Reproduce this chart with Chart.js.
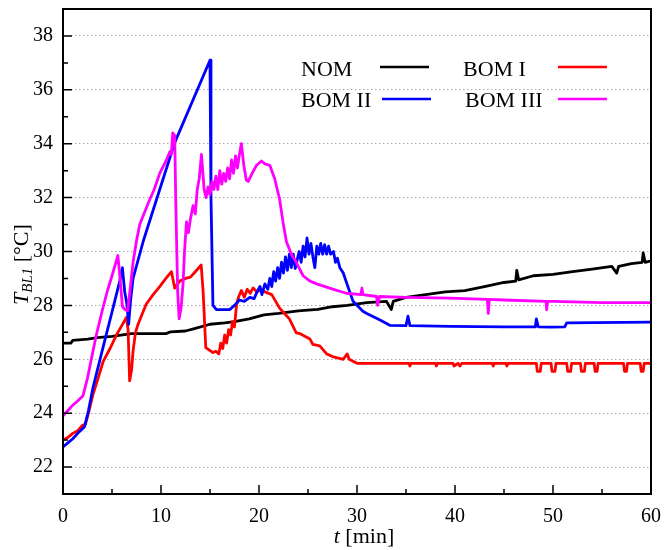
<!DOCTYPE html>
<html>
<head>
<meta charset="utf-8">
<script src="https://cdn.jsdelivr.net/npm/chart.js@4"></script>
<style>
  body { margin: 0; background: #fff; }
  canvas { display: block; }
</style>
</head>
<body>
<canvas id="tempChart" width="664" height="550"></canvas>
<script>
// time [min] and temperature [°C] for each run
const nomTime = [0, 0.8, 1.0, 2.5, 3.5, 5, 7, 9, 10.5, 11, 12.5, 13.5, 15, 16.5, 17.5, 19, 20.5, 22, 24, 26, 27.5, 29, 31, 33, 33.5, 33.7, 35, 37, 39, 41, 43, 45, 46.2, 46.3, 46.5, 48, 50, 52, 54, 56, 56.5, 56.7, 58, 59.1, 59.2, 59.4, 60];
const nomTemp = [26.6, 26.6, 26.7, 26.75, 26.8, 26.85, 26.95, 26.95, 26.95, 27.02, 27.05, 27.15, 27.3, 27.35, 27.4, 27.5, 27.65, 27.7, 27.8, 27.85, 27.95, 28.0, 28.1, 28.15, 27.85, 28.15, 28.3, 28.4, 28.5, 28.55, 28.7, 28.85, 28.9, 29.3, 28.95, 29.1, 29.15, 29.25, 29.35, 29.45, 29.2, 29.45, 29.55, 29.6, 29.95, 29.6, 29.65];

const bom1Time = [0, 0.5, 1, 1.5, 2.0, 2.3, 2.6, 3.06, 3.5, 4.08, 4.8, 5.45, 6.0, 6.47, 6.64, 6.8, 7.0, 7.15, 7.4, 7.66, 8.1, 8.5, 9.2, 9.87, 10.5, 11.07, 11.4, 11.9, 12.5, 13.0, 13.5, 14.1, 14.3, 14.57, 15.3, 15.6, 15.9, 16.1, 16.3, 16.5, 16.7, 16.9, 17.1, 17.3, 17.5, 17.7, 17.9, 18.2, 18.5, 18.8, 19.1, 19.4, 19.8, 20.2, 20.6, 21.3, 22.1, 22.6, 23.1, 23.8, 24.2, 25.2, 25.5, 26.2, 26.9, 27.5, 28.6, 29.0, 29.2, 30.0, 32, 35.3, 35.4, 35.5, 38.0, 38.1, 38.2, 39.8, 39.9, 40.3, 40.5, 40.7, 43.8, 43.9, 44.0, 45.2, 45.3, 45.4, 48.3, 48.4, 48.7, 48.8, 49.8, 49.9, 50.2, 50.3, 51.4, 51.5, 51.8, 51.9, 52.8, 52.9, 53.2, 53.3, 54.2, 54.3, 54.5, 54.6, 57.2, 57.3, 57.5, 57.6, 58.9, 59.0, 59.2, 59.3, 60];
const bom1Temp = [23.0, 23.1, 23.25, 23.35, 23.55, 23.6, 24.0, 24.7, 25.2, 25.9, 26.4, 26.9, 27.25, 27.55, 27.1, 25.2, 25.6, 26.3, 27.0, 27.3, 27.7, 28.05, 28.4, 28.7, 29.0, 29.25, 28.64, 28.9, 29.0, 29.05, 29.25, 29.5, 28.5, 26.43, 26.25, 26.3, 26.2, 26.6, 26.4, 26.9, 26.6, 27.1, 26.9, 27.4, 27.2, 28.0, 28.3, 28.55, 28.3, 28.6, 28.45, 28.65, 28.5, 28.6, 28.5, 28.4, 27.9, 27.7, 27.5, 26.98, 26.95, 26.75, 26.55, 26.5, 26.2, 26.1, 26.0, 26.2, 26.0, 25.85, 25.85, 25.85, 25.75, 25.85, 25.85, 25.75, 25.85, 25.85, 25.75, 25.85, 25.75, 25.85, 25.85, 25.75, 25.85, 25.85, 25.75, 25.85, 25.85, 25.55, 25.55, 25.85, 25.85, 25.55, 25.55, 25.85, 25.85, 25.55, 25.55, 25.85, 25.85, 25.55, 25.55, 25.85, 25.85, 25.55, 25.55, 25.85, 25.85, 25.55, 25.55, 25.85, 25.85, 25.55, 25.55, 25.85, 25.85];

const bom2Time = [0, 0.5, 1, 1.5, 2.2, 2.6, 3.06, 4.08, 5.1, 5.79, 6.06, 6.3, 6.5, 6.7, 6.9, 7.15, 8.17, 9.87, 11.4, 15.0, 15.1, 15.3, 15.66, 17.0, 17.5, 18.0, 18.5, 19.06, 19.5, 19.8, 20.1, 20.3, 20.6, 20.9, 21.1, 21.3, 21.5, 21.7, 21.9, 22.1, 22.3, 22.5, 22.7, 22.9, 23.1, 23.3, 23.5, 23.7, 23.9, 24.1, 24.3, 24.5, 24.7, 24.9, 25.1, 25.3, 25.5, 25.7, 25.9, 26.1, 26.3, 26.5, 26.7, 26.9, 27.1, 27.3, 27.6, 27.8, 28.0, 28.25, 28.6, 28.9, 29.6, 30.6, 31.0, 32.3, 33.35, 35.0, 35.2, 35.4, 39.5, 45, 48.2, 48.3, 48.5, 49.7, 51.2, 51.4, 60];
const bom2Temp = [22.75, 22.9, 23.05, 23.25, 23.5, 24.1, 24.95, 26.43, 27.9, 28.9, 29.4, 28.5, 28.1, 27.3, 28.2, 29.0, 30.36, 32.3, 34.04, 37.1, 32.0, 28.0, 27.84, 27.84, 28.0, 28.2, 28.15, 28.3, 28.25, 28.5, 28.7, 28.4, 28.8, 28.6, 29.0, 28.7, 29.25, 28.9, 29.4, 29.0, 29.6, 29.2, 29.8, 29.3, 29.9, 29.4, 29.9, 29.37, 29.7, 30.0, 29.6, 30.2, 29.8, 30.5, 29.9, 30.3, 29.8, 29.4, 30.2, 29.9, 30.3, 29.9, 30.25, 29.9, 30.2, 29.9, 30.0, 29.6, 29.75, 29.4, 29.2, 28.88, 28.15, 27.78, 27.7, 27.47, 27.26, 27.25, 27.6, 27.25, 27.22, 27.2, 27.2, 27.5, 27.2, 27.19, 27.2, 27.35, 27.38];

const bom3Time = [0, 0.5, 1, 1.5, 2.04, 2.5, 3.0, 3.4, 4.0, 4.5, 5.0, 5.6, 5.85, 6.06, 6.3, 6.6, 6.85, 7.15, 7.5, 7.83, 8.7, 9.3, 9.87, 10.5, 10.9, 11.05, 11.2, 11.4, 11.5, 11.7, 11.85, 12.05, 12.25, 12.4, 12.6, 12.8, 13.0, 13.27, 13.5, 13.7, 13.9, 14.13, 14.4, 14.6, 14.8, 15.0, 15.2, 15.4, 15.6, 15.8, 16.0, 16.2, 16.4, 16.6, 16.8, 17.0, 17.2, 17.4, 17.6, 17.8, 18.0, 18.2, 18.45, 18.7, 18.9, 19.3, 19.75, 20.25, 20.6, 21.1, 21.6, 22.1, 22.5, 22.8, 23.3, 23.8, 24.5, 25.2, 25.9, 27.2, 28.9, 30.4, 30.5, 30.6, 32.0, 32.1, 32.3, 35, 39.5, 43.3, 43.4, 43.5, 45, 49.3, 49.35, 49.45, 50, 55, 60];
const bom3Temp = [23.9, 24.1, 24.3, 24.45, 24.65, 25.3, 26.2, 26.9, 27.8, 28.5, 29.1, 29.85, 28.9, 27.96, 27.85, 27.8, 28.6, 29.6, 30.4, 31.0, 31.8, 32.3, 32.9, 33.35, 33.7, 33.6, 34.4, 34.3, 32.0, 28.5, 27.5, 27.9, 28.8, 30.0, 31.1, 30.7, 31.2, 31.7, 31.4, 32.3, 32.7, 33.6, 32.3, 32.0, 32.4, 32.1, 32.6, 32.3, 32.8, 32.3, 33.0, 32.5, 32.9, 32.6, 33.1, 32.7, 33.4, 32.9, 33.55, 33.1, 33.6, 34.0, 33.2, 32.65, 32.6, 32.9, 33.2, 33.36, 33.25, 33.2, 32.7, 31.95, 30.97, 30.36, 29.9, 29.6, 29.1, 28.9, 28.8, 28.64, 28.45, 28.4, 28.64, 28.4, 28.33, 28.0, 28.33, 28.3, 28.27, 28.22, 27.7, 28.22, 28.2, 28.15, 27.84, 28.15, 28.15, 28.1, 28.1];

const xTicks = [0, 10, 20, 30, 40, 50, 60];
const yTicks = [22, 24, 26, 28, 30, 32, 34, 36, 38];

const serif = "'Liberation Serif', 'Times New Roman', serif";

const toPoints = (times, temps) => times.map((t, i) => ({ x: t, y: temps[i] }));

const series = [
  { label: "NOM", color: "#000000", data: toPoints(nomTime, nomTemp), order: 4 },
  { label: "BOM I", color: "#ff0000", data: toPoints(bom1Time, bom1Temp), order: 3 },
  { label: "BOM II", color: "#0000ff", data: toPoints(bom2Time, bom2Temp), order: 2 },
  { label: "BOM III", color: "#ff00ff", data: toPoints(bom3Time, bom3Temp), order: 1 },
];

// legend slots: text position and sample line position
const legendSlots = [
  { tx: 301, ty: 76, lx: 380, ly: 67 },
  { tx: 463, ty: 76, lx: 558, ly: 67 },
  { tx: 301, ty: 107, lx: 382, ly: 99 },
  { tx: 465, ty: 107, lx: 558, ly: 99 },
];

// keep the plot box fixed: no extra room for half-labels at the ends
const noEdgePadding = (scale) => {
  scale.paddingLeft = 0;
  scale.paddingRight = 0;
  scale.paddingTop = 0;
  scale.paddingBottom = 0;
};

// box frame, inward ticks, legend and axis titles
const framePlugin = {
  id: "frame",
  afterDraw(chart) {
    const { ctx, chartArea: a, scales } = chart;
    const x = scales.x;
    const y = scales.y;
    ctx.save();
    ctx.strokeStyle = "#000";
    ctx.lineWidth = 2;
    ctx.strokeRect(a.left, a.top, a.right - a.left, a.bottom - a.top);

    ctx.lineWidth = 1.5;
    ctx.beginPath();
    for (let v = 0; v <= 60; v += 5) {
      const px = x.getPixelForValue(v);
      const len = v % 10 === 0 ? 9 : 5;
      ctx.moveTo(px, a.bottom);
      ctx.lineTo(px, a.bottom - len);
    }
    for (let v = 21; v <= 39; v++) {
      const py = y.getPixelForValue(v);
      const len = v % 2 === 0 ? 9 : 5;
      ctx.moveTo(a.left, py);
      ctx.lineTo(a.left + len, py);
    }
    ctx.stroke();

    // legend
    ctx.font = "22px " + serif;
    ctx.fillStyle = "#000";
    ctx.textBaseline = "alphabetic";
    ctx.textAlign = "left";
    series.forEach((s, i) => {
      const slot = legendSlots[i];
      ctx.fillText(s.label, slot.tx, slot.ty);
      ctx.strokeStyle = s.color;
      ctx.lineWidth = 2.5;
      ctx.beginPath();
      ctx.moveTo(slot.lx, slot.ly);
      ctx.lineTo(slot.lx + 49, slot.ly);
      ctx.stroke();
    });

    // x title: t [min]
    ctx.font = "italic 22px " + serif;
    const wt = ctx.measureText("t").width;
    ctx.font = "22px " + serif;
    const wRest = ctx.measureText(" [min]").width;
    const xStart = 364 - (wt + wRest) / 2;
    ctx.font = "italic 22px " + serif;
    ctx.fillText("t", xStart, 543);
    ctx.font = "22px " + serif;
    ctx.fillText(" [min]", xStart + wt, 543);

    // y title: T_BL1 [°C]
    ctx.translate(28, 305);
    ctx.rotate(-Math.PI / 2);
    ctx.font = "italic 22px " + serif;
    ctx.fillText("T", 0, 0);
    const wT = ctx.measureText("T").width;
    ctx.font = "italic 15px " + serif;
    ctx.fillText("BL1", wT, 4);
    const wSub = ctx.measureText("BL1").width;
    ctx.font = "22px " + serif;
    ctx.fillText(" [°C]", wT + wSub, 0);
    ctx.restore();
  },
};

const ctx = document.querySelector("#tempChart").getContext("2d");

new Chart(ctx, {
  type: "line",
  data: {
    datasets: series.map((s) => ({
      label: s.label,
      data: s.data,
      borderColor: s.color,
      backgroundColor: s.color,
      borderWidth: 2.8,
      borderJoinStyle: "round",
      pointRadius: 0,
      tension: 0,
      fill: false,
      order: s.order,
    })),
  },
  options: {
    responsive: false,
    animation: false,
    layout: { padding: { left: 0, right: 13, top: 9, bottom: 0 } },
    plugins: {
      legend: { display: false },
      tooltip: { enabled: false },
    },
    scales: {
      x: {
        type: "linear",
        min: 0,
        max: 60,
        afterBuildTicks: (scale) => {
          scale.ticks = xTicks.map((v) => ({ value: v }));
        },
        afterFit: (scale) => {
          scale.height = 56;
          noEdgePadding(scale);
        },
        grid: { display: false, drawTicks: false },
        border: { display: false },
        ticks: {
          color: "#000",
          padding: 11,
          maxRotation: 0,
          font: { family: serif, size: 20 },
        },
      },
      y: {
        type: "linear",
        min: 21,
        max: 39,
        afterBuildTicks: (scale) => {
          scale.ticks = yTicks.map((v) => ({ value: v }));
        },
        afterFit: (scale) => {
          scale.width = 63;
          noEdgePadding(scale);
        },
        grid: { color: "#aaaaaa", lineWidth: 1, drawTicks: false },
        border: { display: false, dash: [1.5, 2.5] },
        ticks: {
          color: "#000",
          padding: 10,
          font: { family: serif, size: 20 },
        },
      },
    },
  },
  plugins: [framePlugin],
});
</script>
</body>
</html>
